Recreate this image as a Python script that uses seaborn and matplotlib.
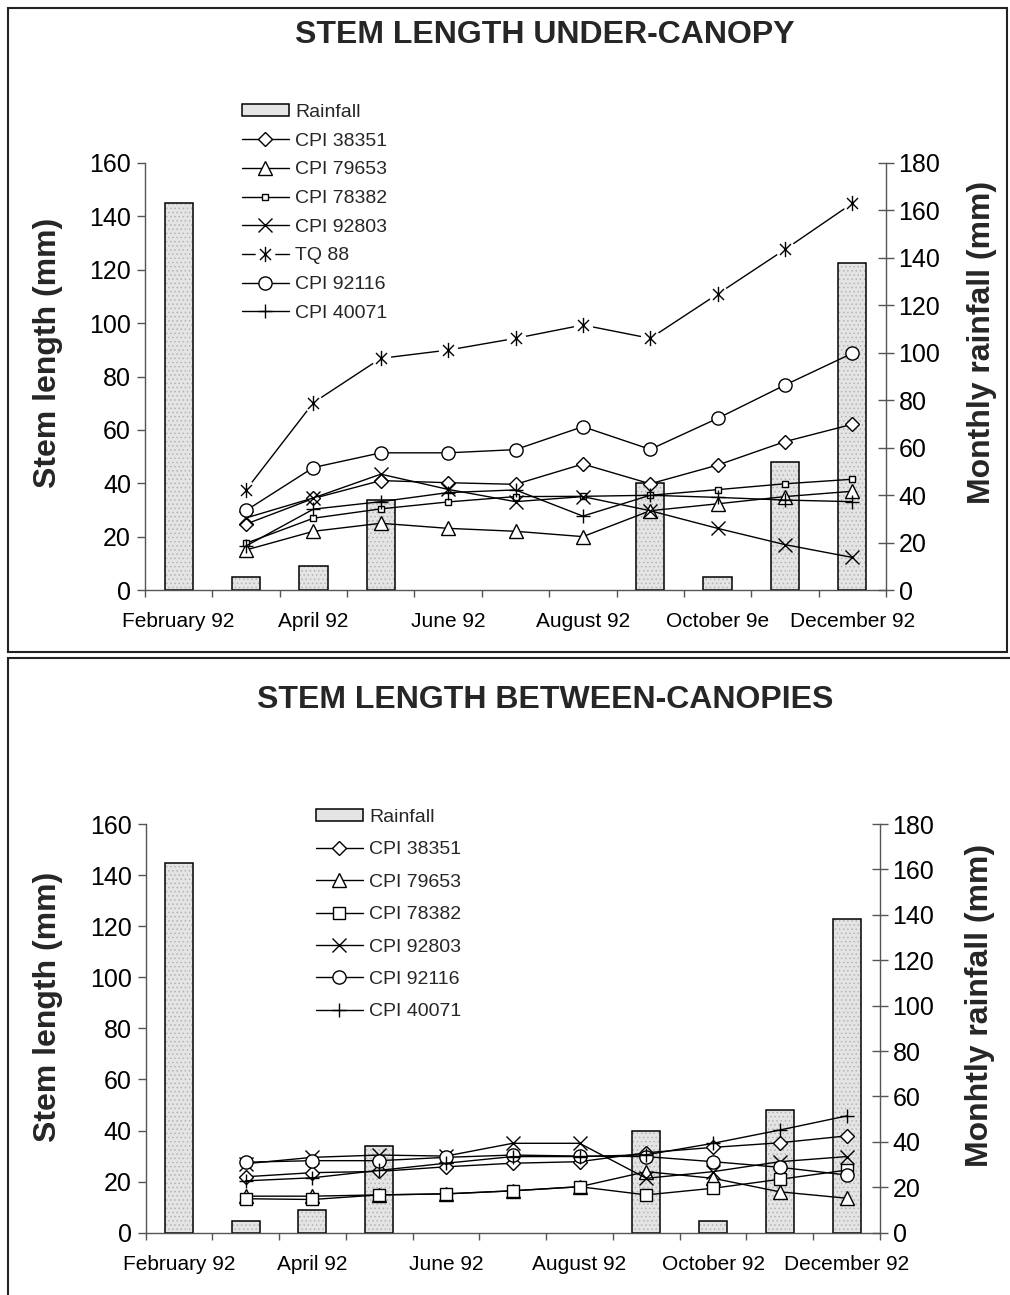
import numpy as np
import matplotlib
matplotlib.use("Agg")
import matplotlib.pyplot as plt
import seaborn as sns
from matplotlib.path import Path
from matplotlib.lines import Line2D
from matplotlib.patches import Patch, Rectangle
from matplotlib.ticker import FixedLocator, FixedFormatter, NullFormatter
from matplotlib.legend_handler import HandlerTuple

# ---------------- data ----------------
months = ["Feb", "Mar", "Apr", "May", "Jun", "Jul", "Aug", "Sep", "Oct", "Nov", "Dec"]
line_months = months[1:]
xlabels_top = ["February 92", "April 92", "June 92", "August 92", "October 9e", "December 92"]
xlabels_bottom = ["February 92", "April 92", "June 92", "August 92", "October 92", "December 92"]

rain_top = [163, 5.5, 10, 38, 0, 0, 0, 45, 5.5, 54, 138]
rain_bottom = [163, 5, 10, 38, 0, 0, 0, 45, 5, 54, 138]

# under-canopy stem length (mm), Mar..Dec
u_cpi38351 = [24.7, 34.3, 41.0, 40.2, 39.6, 47.2, 39.8, 46.8, 55.6, 62.1]
u_cpi79653 = [15.0, 22.0, 25.0, 23.1, 22.0, 20.0, 29.7, 32.3, 35.0, 37.0]
u_cpi78382 = [17.5, 26.9, 30.4, 33.0, 35.0, 35.1, 35.5, 37.6, 39.8, 41.5]
u_cpi92803 = [27.0, 34.5, 43.4, 37.7, 33.1, 35.0, 29.7, 23.1, 17.0, 12.2]
u_tq88 = [37.5, 70.2, 86.8, 89.9, 94.3, 99.3, 94.3, 110.9, 127.6, 144.9]
u_cpi92116 = [29.8, 45.9, 51.4, 51.4, 52.6, 61.2, 52.7, 64.3, 76.8, 88.7]
u_cpi40071 = [16.5, 30.3, 33.1, 36.5, 37.5, 27.7, 35.5, 34.7, 33.7, 33.1]

# between-canopies stem length (mm), Mar..Dec
b_cpi38351 = [21.9, 23.5, 24.0, 25.8, 27.2, 27.8, 31.3, 33.4, 35.2, 37.9]
b_cpi79653 = [14.3, 14.3, 14.8, 15.2, 16.4, 18.0, 23.9, 21.3, 16.0, 13.5]
b_cpi78382 = [13.3, 13.0, 14.8, 15.2, 16.4, 18.0, 14.8, 17.4, 20.9, 24.5]
b_cpi92803 = [27.0, 29.5, 30.4, 30.0, 35.0, 35.0, 21.3, 23.9, 27.8, 29.8]
b_cpi92116 = [27.6, 28.2, 28.2, 29.5, 30.4, 30.0, 29.8, 27.8, 25.6, 22.6]
b_cpi40071 = [20.3, 21.5, 24.4, 27.2, 29.8, 29.8, 30.5, 35.0, 40.2, 45.7]

# ---------------- style ----------------
sns.set_theme(style="white")
plt.rcParams["font.family"] = ["Liberation Sans", "DejaVu Sans"]
plt.rcParams["hatch.linewidth"] = 0.6

W, H = 1010, 1295
fig = plt.figure(figsize=(W / 100, H / 100), dpi=100)
fig.patch.set_facecolor("white")


def fx(p):
    return p / W


def fy(p):
    return 1 - p / H


AXC = "#555555"
BARC = "#e4e4e4"
AST = Path([(0, -1), (0, 1), (-0.72, -0.72), (0.72, 0.72), (-0.72, 0.72), (0.72, -0.72)],
           [Path.MOVETO, Path.LINETO] * 3)


def draw_panel(box, title, title_y, xlabels, rain, series, leg_xy, leg_spacing,
               ylab_xy, rlab_text, rlab_xy):
    l, t, r, b = box
    ax = fig.add_axes([fx(l), fy(b), (r - l) / W, (b - t) / H])
    ax2 = ax.twinx()
    # stippled fill
    sns.barplot(x=months, y=rain, ax=ax2, color=BARC, saturation=1, width=0.42,
                edgecolor="#b5b5b5", linewidth=0, hatch="....")
    # outline
    sns.barplot(x=months, y=rain, ax=ax2, color="black", fill=False, saturation=1,
                width=0.42, linewidth=1.1)
    for p in ax2.patches:
        if p.get_height() == 0:
            p.set_linewidth(0)
            p.set_hatch(None)
    ax.set_zorder(ax2.get_zorder() + 1)
    ax.patch.set_visible(False)

    xpos = [months.index(m) for m in line_months]
    handles = [Patch(facecolor=BARC, edgecolor="black", linewidth=1.1)]
    labels = ["Rainfall"]
    for name, vals, mk, ms in series:
        if name == "TQ 88":
            sns.lineplot(x=xpos, y=vals, ax=ax, color="black", linewidth=1.0,
                         errorbar=None)
            sns.lineplot(x=xpos, y=vals, ax=ax, color="white", linestyle="none",
                         marker="o", markersize=ms * 1.2, markerfacecolor="white",
                         markeredgecolor="white", errorbar=None)
            sns.lineplot(x=xpos, y=vals, ax=ax, color="black", linestyle="none",
                         marker=mk, markersize=ms, markeredgecolor="black",
                         markeredgewidth=1.0, errorbar=None)
            h = (Line2D([], [], color="black", lw=1.0),
                 Line2D([], [], ls="none", marker="o", ms=ms * 1.2, mfc="white", mec="white"),
                 Line2D([], [], ls="none", marker=mk, ms=ms, mec="black", mew=1.0))
        else:
            sns.lineplot(x=xpos, y=vals, ax=ax, color="black", linewidth=1.0,
                         marker=mk, markersize=ms, markerfacecolor="white",
                         markeredgecolor="black", markeredgewidth=1.0, errorbar=None)
            h = Line2D([], [], color="black", lw=1.0, marker=mk, ms=ms, mfc="white",
                       mec="black", mew=1.0)
        handles.append(h)
        labels.append(name)

    ax.set_xlim(-0.5, 10.5)
    ax.set_ylim(0, 160)
    ax2.set_ylim(0, 180)
    ax.set_yticks(range(0, 161, 20))
    ax2.set_yticks(range(0, 181, 20))
    ax.xaxis.set_major_locator(FixedLocator(np.arange(-0.5, 11, 1)))
    ax.xaxis.set_major_formatter(NullFormatter())
    ax.xaxis.set_minor_locator(FixedLocator([0, 2, 4, 6, 8, 10]))
    ax.xaxis.set_minor_formatter(FixedFormatter(xlabels))
    ax.tick_params(axis="x", which="major", direction="out", length=5, width=1,
                   color=AXC, bottom=True)
    ax.tick_params(axis="x", which="minor", length=0, pad=16, labelsize=15,
                   bottom=True, labelcolor="black")
    ax.tick_params(axis="y", direction="out", length=6, width=1, color=AXC,
                   labelsize=18, pad=4, left=True, labelcolor="black")
    ax2.tick_params(axis="y", direction="inout", length=12, width=1, color=AXC,
                    labelsize=18, pad=3, right=True, labelcolor="black")
    for s in ["top", "right"]:
        ax.spines[s].set_visible(False)
    for s in ["left", "bottom"]:
        ax.spines[s].set_color(AXC)
        ax.spines[s].set_linewidth(1)
    for s in ["top", "left", "bottom"]:
        ax2.spines[s].set_visible(False)
    ax2.spines["right"].set_color(AXC)
    ax2.spines["right"].set_linewidth(1)
    ax.set_xlabel("")
    ax.set_ylabel("")
    ax2.set_ylabel("")

    fig.legend(handles, labels, loc="upper left",
               bbox_to_anchor=(fx(leg_xy[0]), fy(leg_xy[1])),
               frameon=False, fontsize=14, handlelength=2.4, handletextpad=0.35,
               handleheight=0.6, labelspacing=leg_spacing, borderpad=0,
               borderaxespad=0, handler_map={tuple: HandlerTuple(ndivide=1)})

    fig.text(fx(545), fy(title_y), title, ha="center", va="center",
             fontsize=23, fontweight="bold")
    fig.text(fx(ylab_xy[0]), fy(ylab_xy[1]), "Stem length (mm)", rotation=90,
             ha="center", va="center", fontsize=23, fontweight="bold")
    fig.text(fx(rlab_xy[0]), fy(rlab_xy[1]), rlab_text, rotation=90,
             ha="center", va="center", fontsize=23, fontweight="bold")


top_series = [
    ("CPI 38351", u_cpi38351, "D", 6.8),
    ("CPI 79653", u_cpi79653, "^", 10),
    ("CPI 78382", u_cpi78382, "s", 5),
    ("CPI 92803", u_cpi92803, "x", 10),
    ("TQ 88", u_tq88, AST, 11),
    ("CPI 92116", u_cpi92116, "o", 9.5),
    ("CPI 40071", u_cpi40071, "+", 10),
]
bottom_series = [
    ("CPI 38351", b_cpi38351, "D", 6.8),
    ("CPI 79653", b_cpi79653, "^", 10),
    ("CPI 78382", b_cpi78382, "s", 8),
    ("CPI 92803", b_cpi92803, "x", 10),
    ("CPI 92116", b_cpi92116, "o", 9.5),
    ("CPI 40071", b_cpi40071, "+", 10),
]

draw_panel((145, 163, 886, 590), "STEM LENGTH UNDER-CANOPY", 35, xlabels_top,
           rain_top, top_series, (242, 104), 0.60, (48, 353),
           "Monthly rainfall (mm)", (982, 342))
draw_panel((145.5, 824, 880, 1232.7), "STEM LENGTH BETWEEN-CANOPIES", 700,
           xlabels_bottom, rain_bottom, bottom_series, (316, 809), 0.79, (48, 1007),
           "Monhtly rainfall (mm)", (980, 1005))

# panel frames
fig.add_artist(Rectangle((fx(8), fy(652)), (1007 - 8) / W, (652 - 8) / H,
                         transform=fig.transFigure, fill=False, ec="#222222", lw=1.5))
fig.add_artist(Rectangle((fx(8), fy(1310)), (1030 - 8) / W, (1310 - 658) / H,
                         transform=fig.transFigure, fill=False, ec="#222222", lw=1.5))

fig.savefig("out.png", dpi=100, facecolor="white")
